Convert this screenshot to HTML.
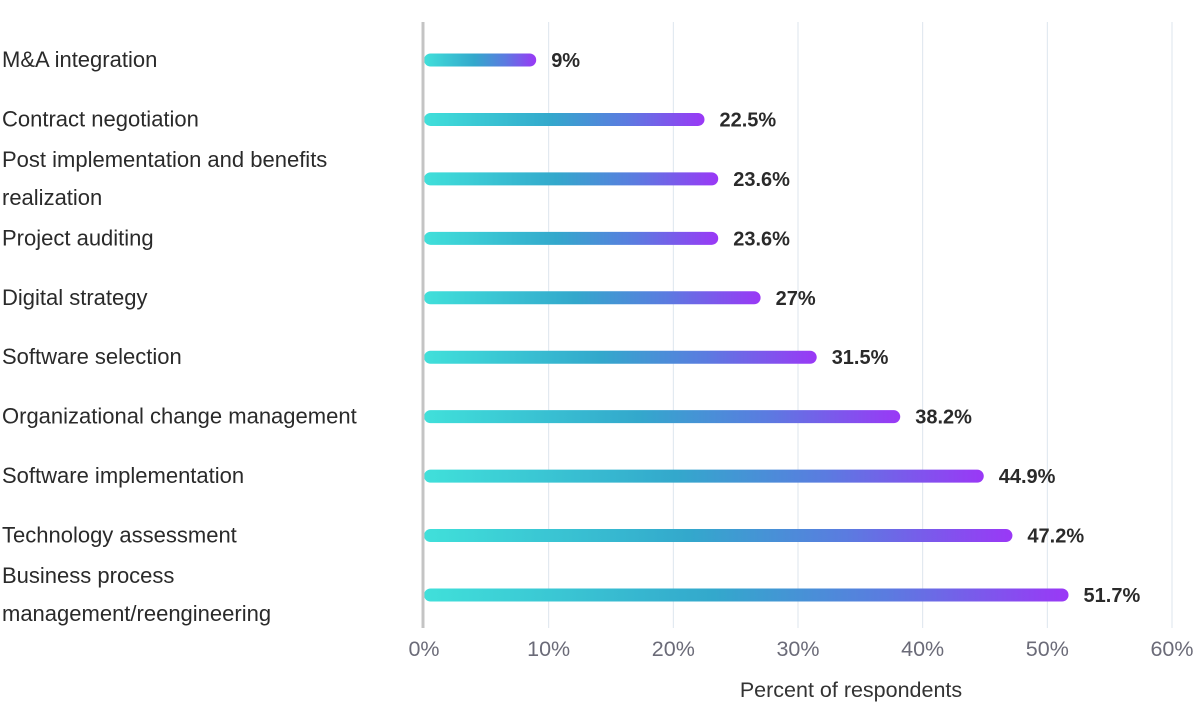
<!DOCTYPE html>
<html><head><meta charset="utf-8"><style>
body{margin:0;background:#fff;width:1200px;height:718px;overflow:hidden;font-family:"Liberation Sans",sans-serif}
</style></head><body>
<svg id="chart" width="1200" height="718" xmlns="http://www.w3.org/2000/svg">
<defs><linearGradient id="g" x1="0" x2="1" y1="0" y2="0">
<stop offset="0" stop-color="#40e0da"/><stop offset="0.45" stop-color="#33a8cc"/><stop offset="0.72" stop-color="#5b7be0"/><stop offset="1" stop-color="#9a38f6"/>
</linearGradient></defs>
<g id="grid"></g><g id="bars"></g><g id="labels"></g>
<line x1="423" x2="423" y1="22" y2="628" stroke="#c4c4c4" stroke-width="3"/>
<text x="851" y="697" text-anchor="middle" font-size="21.5" fill="#333">Percent of respondents</text>
</svg>
<script>
const categories=["M&A integration","Contract negotiation","Post implementation and benefits|realization","Project auditing","Digital strategy","Software selection","Organizational change management","Software implementation","Technology assessment","Business process|management/reengineering"];
const values=[9,22.5,23.6,23.6,27,31.5,38.2,44.9,47.2,51.7];
const valueLabels=["9%","22.5%","23.6%","23.6%","27%","31.5%","38.2%","44.9%","47.2%","51.7%"];
const ticks=[0,10,20,30,40,50,60];
const tickLabels=["0%","10%","20%","30%","40%","50%","60%"];
const NS="http://www.w3.org/2000/svg";
const x=v=>424+v*(1172-424)/60;
const y=i=>60+i*(595-60)/9;
function el(t,a,p,txt){const e=document.createElementNS(NS,t);for(const k in a)e.setAttribute(k,a[k]);if(txt!=null)e.textContent=txt;p.appendChild(e);return e;}
const G=document.getElementById('grid'),B=document.getElementById('bars'),L=document.getElementById('labels');
ticks.forEach((t,i)=>{
 if(i>0){const l=el('line',{x1:x(t),x2:x(t),y1:22,y2:628,stroke:'#dde5ee','stroke-width':1},G);
 
 }
 const tx=el('text',{x:x(t),y:656,'text-anchor':'middle','font-size':21.5,fill:'#6b6b78'},G,tickLabels[i]);
 
 
});
categories.forEach((c,i)=>{
 const cy=y(i);
 const r=el('rect',{x:424,y:cy-6.5,width:Math.max(x(values[i])-424,13),height:13,rx:6.5,fill:'url(#g)'},B);
 
 
 const v=el('text',{x:x(values[i])+15,y:cy+7,'font-size':20,'font-weight':'bold',fill:'#2a2a2a'},L,valueLabels[i]);
 
 
 const parts=c.split('|');
 parts.forEach((p,j)=>{
  const ly=parts.length===1?cy+7:cy+7-19+j*38;
  const t=el('text',{x:2,y:ly,'font-size':22,fill:'#2a2a2a'},L,p);
  
  
 });
});
</script>
</body></html>
